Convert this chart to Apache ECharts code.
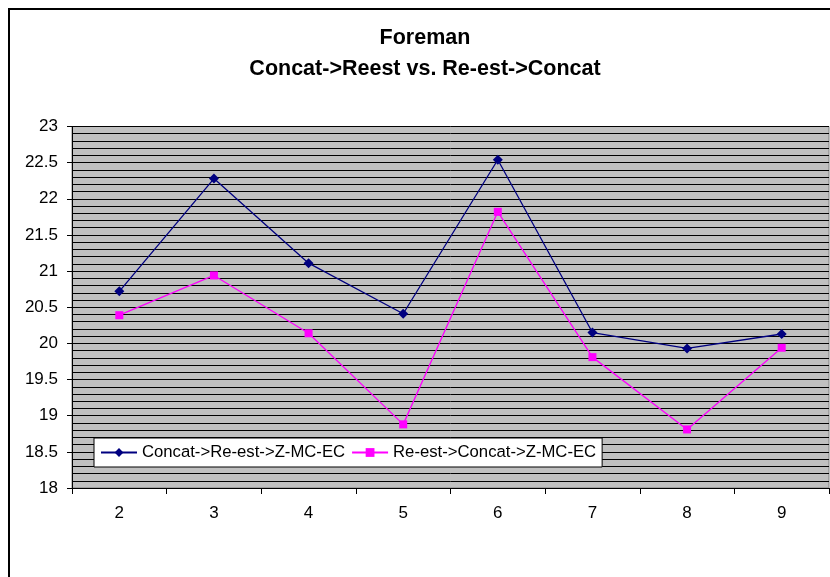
<!DOCTYPE html>
<html>
<head>
<meta charset="utf-8">
<script src="https://cdn.jsdelivr.net/npm/echarts@6/dist/echarts.min.js"></script>
<style>
  html, body { margin: 0; padding: 0; background: #fff; }
  #chart { width: 830px; height: 577px; }
</style>
</head>
<body>
<div id="chart"></div>
<script>
// Frame counts on the x axis
const categories = ['2', '3', '4', '5', '6', '7', '8', '9'];
// PSNR-style values for the two processing orders
const concatFirst = [20.72, 22.28, 21.11, 20.41, 22.54, 20.15, 19.93, 20.13];
const reestFirst = [20.39, 20.94, 20.14, 18.88, 21.82, 19.81, 18.81, 19.94];
const seriesNames = ['Concat->Re-est->Z-MC-EC', 'Re-est->Concat->Z-MC-EC'];
const titleLines = ['Foreman', 'Concat->Reest vs. Re-est->Concat'];

const FONT = '"Liberation Sans", Arial, sans-serif';
const chart = echarts.init(document.getElementById('chart'), null, { renderer: 'canvas' });

chart.setOption({
  animation: false,
  backgroundColor: '#ffffff',
  textStyle: { fontFamily: FONT, color: '#000' },
  title: {
    text: titleLines.join('\n'),
    left: 420,
    top: 18,
    textAlign: 'center',
    textStyle: { fontFamily: FONT, fontSize: 21.5, fontWeight: 'bold', color: '#000', lineHeight: 31 }
  },
  graphic: [{
    type: 'rect',
    shape: { x: 9, y: 9, width: 900, height: 620 },
    style: { fill: 'none', stroke: '#000', lineWidth: 2 },
    silent: true,
    z: 100
  }],
  legend: {
    left: 94,
    top: 438,
    orient: 'horizontal',
    backgroundColor: '#ffffff',
    borderColor: '#000',
    borderWidth: 1,
    borderRadius: 0,
    padding: [6, 6, 6, 6],
    itemGap: 6,
    itemWidth: 36,
    itemHeight: 11,
    textStyle: { fontFamily: FONT, fontSize: 16.7, color: '#000', padding: [0, 0, 0, 0] },
    data: seriesNames,
    z: 10
  },
  grid: {
    left: 72,
    right: 1,
    top: 126.5,
    bottom: 89,
    show: true,
    backgroundColor: '#c0c0c0',
    borderColor: '#808080',
    borderWidth: 1
  },
  xAxis: {
    type: 'category',
    data: categories,
    boundaryGap: true,
    axisLine: { show: true, lineStyle: { color: '#000', width: 1 } },
    axisTick: { show: true, length: 6, lineStyle: { color: '#000' } },
    axisLabel: { fontFamily: FONT, fontSize: 17, color: '#000', margin: 17 },
    splitLine: { show: false }
  },
  yAxis: {
    type: 'value',
    min: 18,
    max: 23,
    interval: 0.5,
    axisLine: { show: true, lineStyle: { color: '#000', width: 1 } },
    axisTick: { show: true, length: 5, lineStyle: { color: '#000' } },
    axisLabel: { fontFamily: FONT, fontSize: 17, color: '#000', margin: 14 },
    splitLine: { show: true, lineStyle: { color: '#000', width: 1 } },
    minorTick: { show: false, splitNumber: 5 },
    minorSplitLine: { show: true, lineStyle: { color: '#000', width: 1 } }
  },
  series: [
    {
      name: seriesNames[0],
      type: 'line',
      data: concatFirst,
      symbol: 'diamond',
      symbolSize: 10,
      lineStyle: { color: '#000080', width: 1.3 },
      itemStyle: { color: '#000080' },
      z: 3
    },
    {
      name: seriesNames[1],
      type: 'line',
      data: reestFirst,
      symbol: 'rect',
      symbolSize: 8,
      lineStyle: { color: '#ff00ff', width: 1.3 },
      itemStyle: { color: '#ff00ff' },
      z: 3
    }
  ]
});
</script>
</body>
</html>
